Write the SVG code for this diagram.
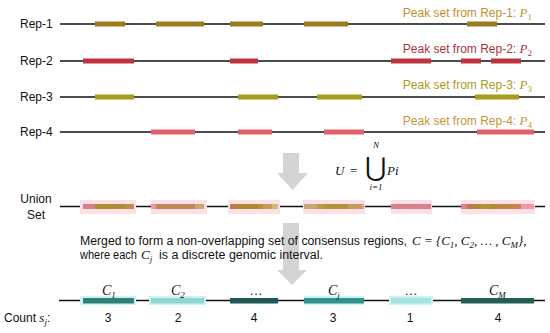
<svg xmlns="http://www.w3.org/2000/svg" width="550" height="333" viewBox="0 0 550 333">
<style>
.t{font-family:"Liberation Sans",Arial,sans-serif;font-size:12px;fill:#111}
.m{font-family:"Liberation Serif","Times New Roman",serif;font-style:italic;font-size:13px;fill:#111}
.mn{font-family:"Liberation Serif","Times New Roman",serif;font-size:13px;fill:#111}
.sub{font-size:9px}
.ln{stroke:#111;stroke-width:1.3}
.r1{fill:#9B7B1C}
.r2{fill:#C0323E}
.r3{fill:#A89C1C}
.r4{fill:#E0606C}
.halo{fill:#FCE0E8}
.chalo{fill:#CDF2F2}
.arrow{fill:#D4D4D4}
</style>

<g id="arrows">
<path class="arrow" d="M283,153 H299 V173 H308 L292.5,190 L277,173 H283 Z"/>
<path class="arrow" d="M283,223 H299 V270 H307 L292,285 L277,270 H283 Z"/>
</g>

<g id="rep1">
<text class="t" x="20" y="28">Rep-1</text>
<line class="ln" x1="60" y1="24" x2="545" y2="24"/>
<rect class="r1" x="95" y="21.5" width="30" height="5"/>
<rect class="r1" x="156" y="21.5" width="48" height="5"/>
<rect class="r1" x="230" y="21.5" width="33" height="5"/>
<rect class="r1" x="304" y="21.5" width="44" height="5"/>
<rect class="r1" x="467" y="21.5" width="30" height="5"/>
<text class="t" x="532" y="17" text-anchor="end" style="fill:#C48F30">Peak set from Rep-1: <tspan class="m" style="fill:#C48F30">P</tspan><tspan class="mn sub" dy="3" style="fill:#C48F30">1</tspan></text>
</g>

<g id="rep2">
<text class="t" x="20" y="65">Rep-2</text>
<line class="ln" x1="60" y1="61" x2="545" y2="61"/>
<rect class="r2" x="83" y="58.5" width="51" height="5"/>
<rect class="r2" x="230" y="58.5" width="28" height="5"/>
<rect class="r2" x="391" y="58.5" width="40" height="5"/>
<rect class="r2" x="461" y="58.5" width="20" height="5"/>
<rect class="r2" x="491" y="58.5" width="30" height="5"/>
<text class="t" x="532" y="53" text-anchor="end" style="fill:#A8343C">Peak set from Rep-2: <tspan class="m" style="fill:#A8343C">P</tspan><tspan class="mn sub" dy="3" style="fill:#A8343C">2</tspan></text>
</g>

<g id="rep3">
<text class="t" x="20" y="101">Rep-3</text>
<line class="ln" x1="60" y1="97" x2="545" y2="97"/>
<rect class="r3" x="95" y="94.5" width="39" height="5"/>
<rect class="r3" x="238" y="94.5" width="40" height="5"/>
<rect class="r3" x="317" y="94.5" width="45" height="5"/>
<rect class="r3" x="475" y="94.5" width="44" height="5"/>
<text class="t" x="532" y="89" text-anchor="end" style="fill:#A89C22">Peak set from Rep-3: <tspan class="m" style="fill:#A89C22">P</tspan><tspan class="mn sub" dy="3" style="fill:#A89C22">3</tspan></text>
</g>

<g id="rep4">
<text class="t" x="20" y="136">Rep-4</text>
<line class="ln" x1="60" y1="132" x2="545" y2="132"/>
<rect class="r4" x="151" y="129.5" width="44" height="5"/>
<rect class="r4" x="238" y="129.5" width="34" height="5"/>
<rect class="r4" x="324" y="129.5" width="40" height="5"/>
<rect class="r4" x="477" y="129.5" width="57" height="5"/>
<text class="t" x="532" y="125" text-anchor="end" style="fill:#C2953A">Peak set from Rep-4: <tspan class="m" style="fill:#C2953A">P</tspan><tspan class="mn sub" dy="3" style="fill:#C2953A">4</tspan></text>
</g>

<g id="formula-union">
<text class="m" x="335" y="175">U</text>
<text class="mn" x="350" y="175">=</text>
<text x="365" y="176" style="font-family:'DejaVu Serif',serif;font-size:26px;fill:#111">⋃</text>
<text class="m" x="376" y="148" text-anchor="middle" style="font-size:9px">N</text>
<text class="m" x="376" y="190" text-anchor="middle" style="font-size:9px">i=1</text>
<text class="m" x="387" y="175">Pi</text>
</g>

<g id="union">
<text class="t" x="36" y="203" text-anchor="middle">Union</text>
<text class="t" x="36" y="219" text-anchor="middle">Set</text>
<line class="ln" x1="60" y1="206.5" x2="545" y2="206.5"/>
<rect class="halo" x="80" y="200" width="56" height="14"/>
<rect class="halo" x="151" y="200" width="56" height="14"/>
<rect class="halo" x="228" y="200" width="52" height="14"/>
<rect class="halo" x="303" y="200" width="62" height="14"/>
<rect class="halo" x="391" y="200" width="41" height="14"/>
<rect class="halo" x="461" y="200" width="74" height="14"/>
<g opacity="0.55">
<rect class="r2" x="83" y="204" width="51" height="5"/>
<rect class="r2" x="230" y="204" width="28" height="5"/>
<rect class="r2" x="391" y="204" width="40" height="5"/>
<rect class="r2" x="461" y="204" width="20" height="5"/>
<rect class="r2" x="491" y="204" width="30" height="5"/>
</g>
<g opacity="0.55">
<rect class="r4" x="151" y="204" width="44" height="5"/>
<rect class="r4" x="238" y="204" width="34" height="5"/>
<rect class="r4" x="324" y="204" width="40" height="5"/>
<rect class="r4" x="477" y="204" width="57" height="5"/>
</g>
<g opacity="0.55">
<rect class="r1" x="95" y="204" width="30" height="5"/>
<rect class="r1" x="156" y="204" width="48" height="5"/>
<rect class="r1" x="230" y="204" width="33" height="5"/>
<rect class="r1" x="304" y="204" width="44" height="5"/>
<rect class="r1" x="467" y="204" width="30" height="5"/>
</g>
<g opacity="0.55">
<rect class="r3" x="95" y="204" width="39" height="5"/>
<rect class="r3" x="238" y="204" width="40" height="5"/>
<rect class="r3" x="317" y="204" width="45" height="5"/>
<rect class="r3" x="475" y="204" width="44" height="5"/>
</g>
</g>

<g id="merge-text">
<text class="t" x="80" y="245" textLength="327" lengthAdjust="spacingAndGlyphs">Merged to form a non-overlapping set of consensus regions,</text>
<text class="m" x="412" y="245">C <tspan class="mn">= {</tspan>C<tspan class="mn sub" dy="3">1</tspan><tspan class="mn" dy="-3">, </tspan>C<tspan class="mn sub" dy="3">2</tspan><tspan class="mn" dy="-3">, … , </tspan>C<tspan class="sub" dy="3">M</tspan><tspan class="mn" dy="-3">},</tspan></text>
<text class="t" x="80" y="259" textLength="57" lengthAdjust="spacingAndGlyphs">where each</text>
<text class="m" x="141" y="259">C<tspan class="sub" dy="3">j</tspan></text>
<text class="t" x="159" y="259" textLength="164" lengthAdjust="spacingAndGlyphs">is a discrete genomic interval.</text>
</g>

<g id="consensus">
<line class="ln" x1="59" y1="300.5" x2="545" y2="300.5"/>
<rect class="chalo" x="80" y="296" width="56" height="9"/>
<rect class="chalo" x="149" y="296" width="57" height="9"/>
<rect class="chalo" x="304" y="296" width="60" height="9"/>
<rect class="chalo" x="389" y="296" width="44" height="9"/>
<rect x="83" y="298" width="51" height="5.5" fill="#2F7F7A"/>
<rect x="151" y="298" width="53" height="5.5" fill="#8FD5D2"/>
<rect x="230" y="298" width="48" height="5.5" fill="#1F5855"/>
<rect x="304" y="298" width="60" height="5.5" fill="#2F928C"/>
<rect x="391" y="298" width="40" height="5.5" fill="#A6E2E2"/>
<rect x="461" y="298" width="73" height="5.5" fill="#245C57"/>
<text class="m" x="102" y="295" style="font-size:14px">C<tspan class="mn sub" dy="3">1</tspan></text>
<text class="m" x="171" y="295" style="font-size:14px">C<tspan class="mn sub" dy="3">2</tspan></text>
<text class="mn" x="256" y="295" text-anchor="middle">…</text>
<text class="m" x="328" y="295" style="font-size:14px">C<tspan class="sub" dy="3">j</tspan></text>
<text class="mn" x="411" y="295" text-anchor="middle">…</text>
<text class="m" x="489" y="295" style="font-size:14px">C<tspan class="sub" dy="3">M</tspan></text>
</g>

<g id="counts">
<text class="t" x="4" y="322">Count <tspan class="m">s</tspan><tspan class="m sub" dy="3">j</tspan><tspan dy="-3">:</tspan></text>
<text class="t" x="108" y="322" text-anchor="middle">3</text>
<text class="t" x="178" y="322" text-anchor="middle">2</text>
<text class="t" x="254" y="322" text-anchor="middle">4</text>
<text class="t" x="333" y="322" text-anchor="middle">3</text>
<text class="t" x="410" y="322" text-anchor="middle">1</text>
<text class="t" x="498" y="322" text-anchor="middle">4</text>
</g>
</svg>
